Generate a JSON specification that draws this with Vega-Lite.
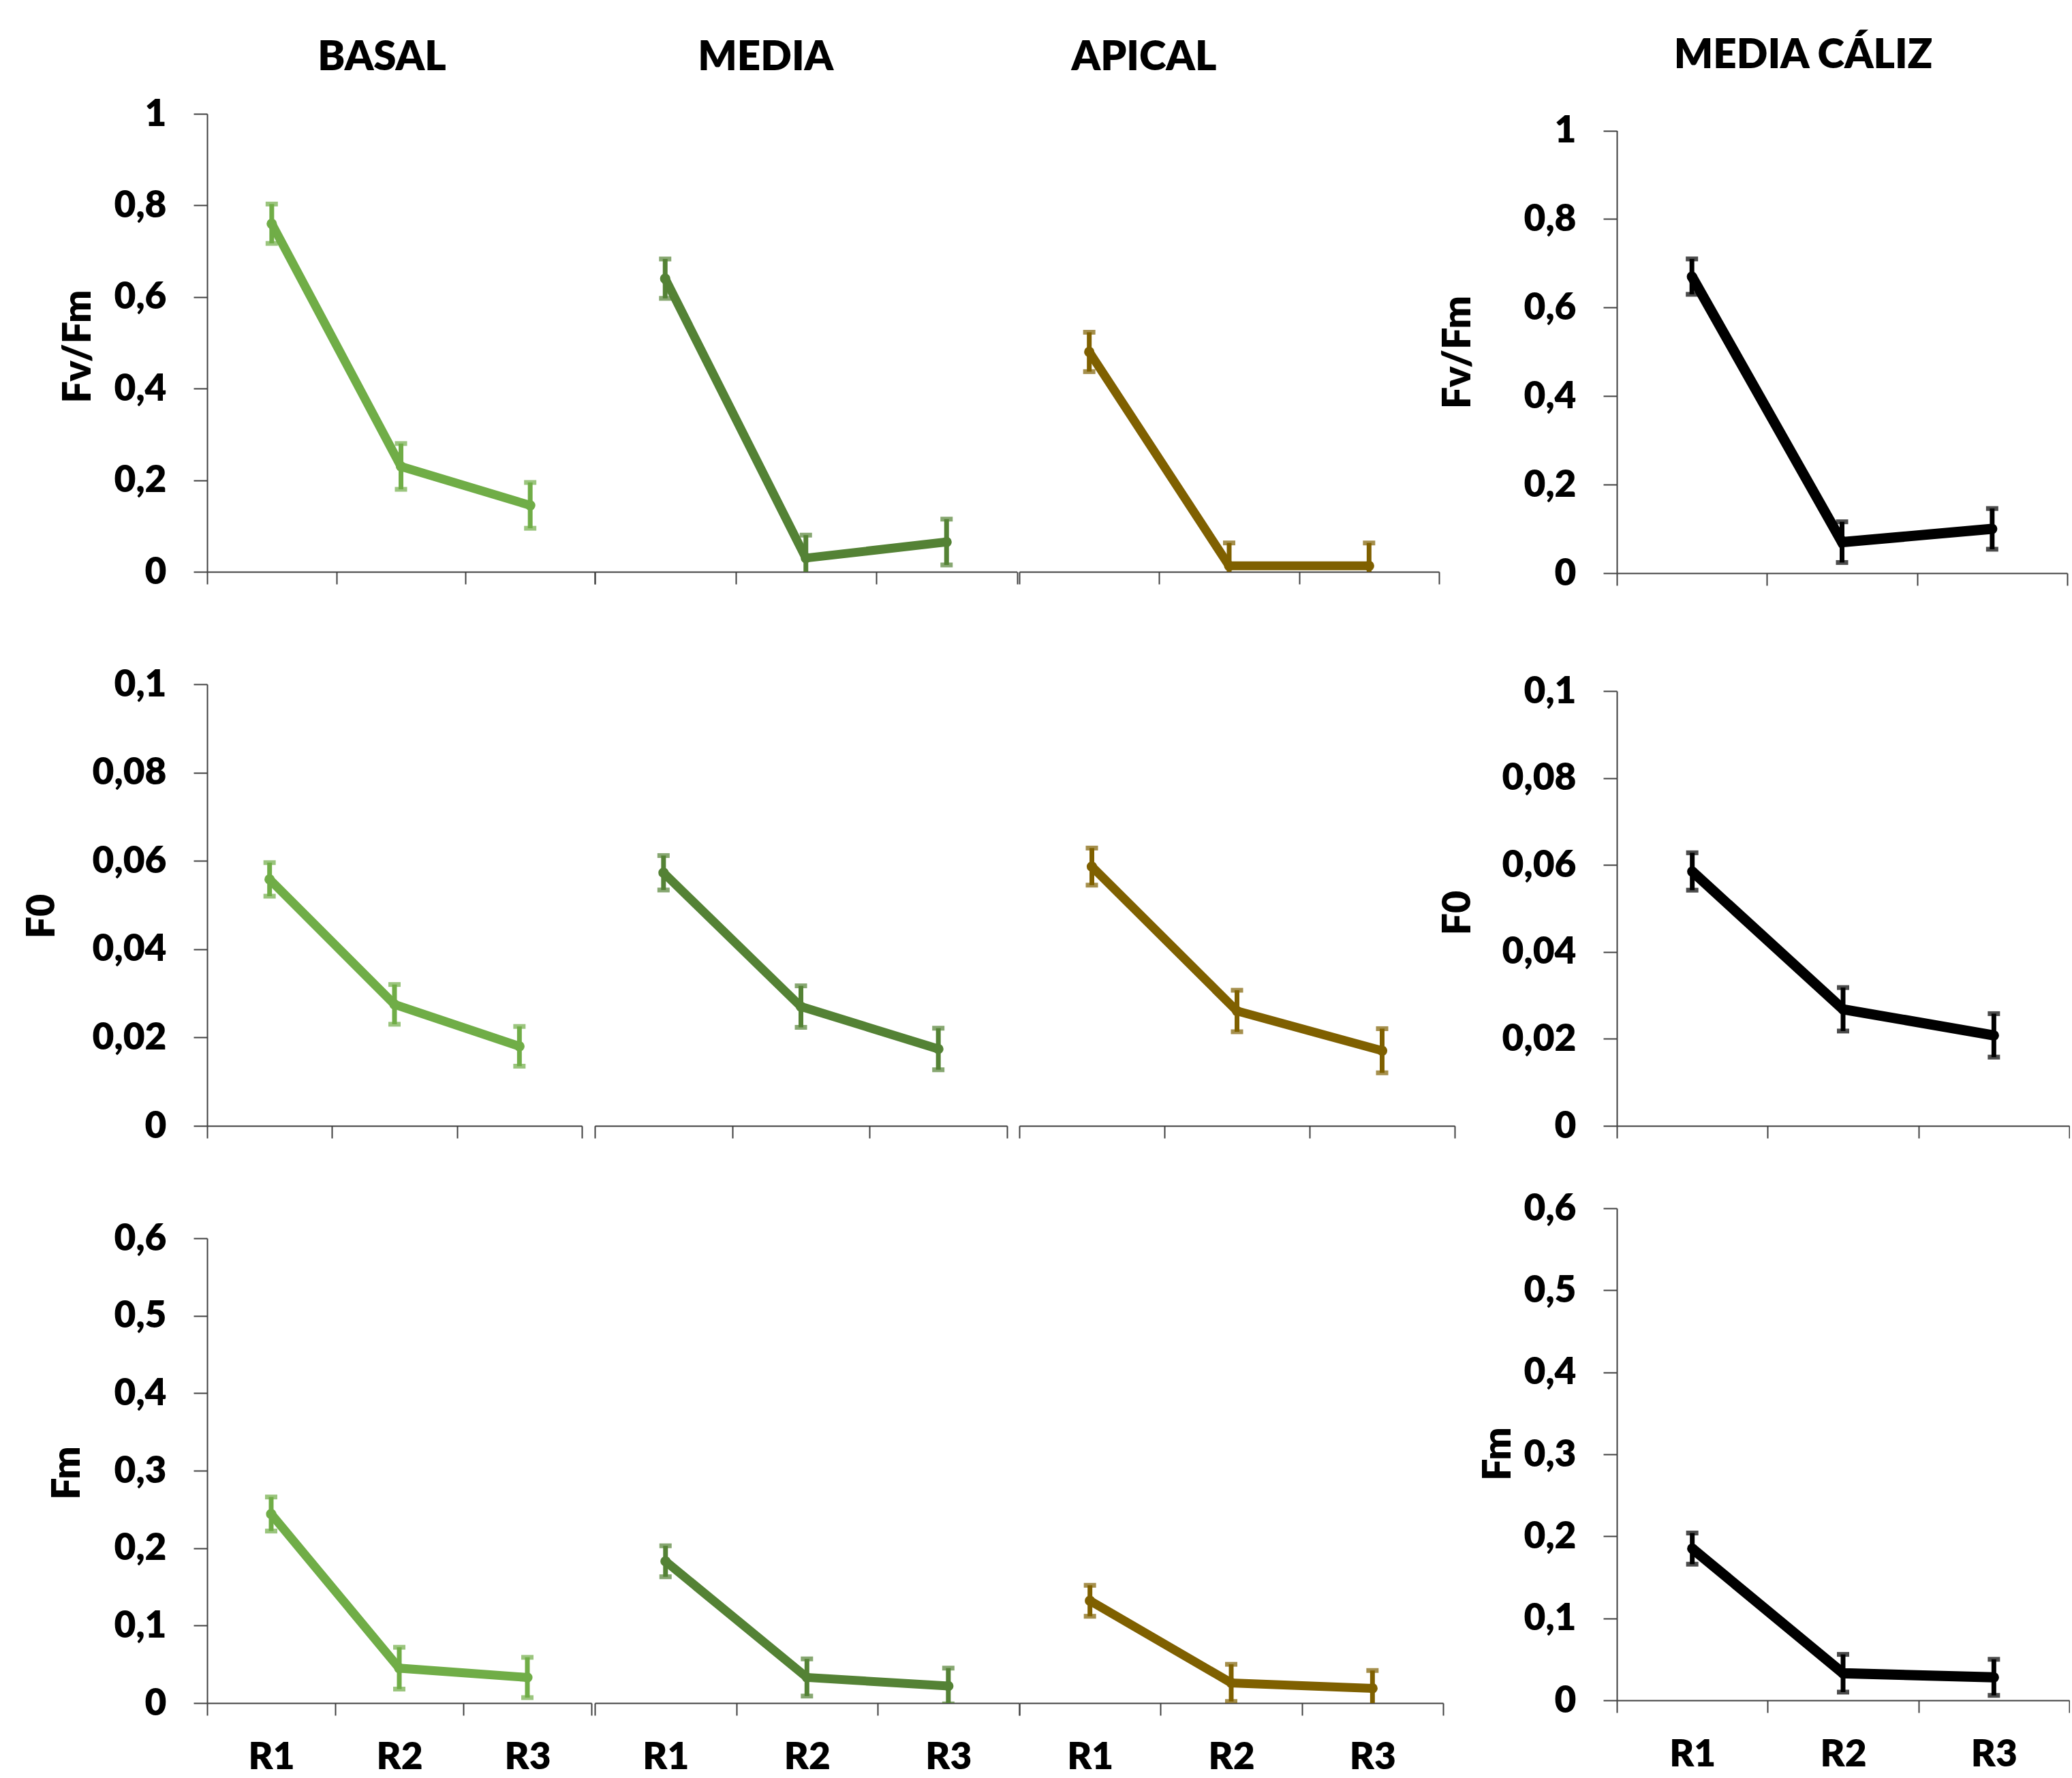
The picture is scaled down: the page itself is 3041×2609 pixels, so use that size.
{
  "$schema": "https://vega.github.io/schema/vega-lite/v6.json",
  "background": "white",
  "padding": {"left": 33, "top": 52, "right": 0, "bottom": 0},
  "autosize": {"type": "pad"},
  "config": {
    "view": {"stroke": null},
    "font": "Lato",
    "title": {"font": "Lato", "fontSize": 60, "fontWeight": 800, "color": "#000000", "anchor": "middle", "frame": "group"},
    "axis": {"grid": false, "domainColor": "#404040", "domainWidth": 2, "tickColor": "#404040", "tickWidth": 2, "labelFont": "Lato", "labelFontSize": 55, "labelFontWeight": 800, "labelColor": "#000000", "titleFont": "Lato", "titleFontSize": 57, "titleFontWeight": 800, "titleColor": "#000000"},
    "axisY": {"tickSize": 20, "labelPadding": 40, "titleAngle": -90, "titleBaseline": "middle", "titleAlign": "center"},
    "axisX": {"tickSize": 18, "tickBand": "extent", "labelPadding": 35, "labelAngle": 0, "labelBaseline": "top"}
  },
  "datasets": {
    "d": [
      {"m": "FvFm", "s": "BASAL", "r": "R1", "v": 0.76, "e": 0.043},
      {"m": "FvFm", "s": "BASAL", "r": "R2", "v": 0.23, "e": 0.05},
      {"m": "FvFm", "s": "BASAL", "r": "R3", "v": 0.145, "e": 0.05},
      {"m": "FvFm", "s": "MEDIA", "r": "R1", "v": 0.64, "e": 0.043},
      {"m": "FvFm", "s": "MEDIA", "r": "R2", "v": 0.03, "e": 0.05},
      {"m": "FvFm", "s": "MEDIA", "r": "R3", "v": 0.065, "e": 0.05},
      {"m": "FvFm", "s": "APICAL", "r": "R1", "v": 0.48, "e": 0.043},
      {"m": "FvFm", "s": "APICAL", "r": "R2", "v": 0.013, "e": 0.05},
      {"m": "FvFm", "s": "APICAL", "r": "R3", "v": 0.013, "e": 0.05},
      {"m": "FvFm", "s": "CALIZ", "r": "R1", "v": 0.67, "e": 0.04},
      {"m": "FvFm", "s": "CALIZ", "r": "R2", "v": 0.07, "e": 0.046},
      {"m": "FvFm", "s": "CALIZ", "r": "R3", "v": 0.1, "e": 0.046},
      {"m": "F0", "s": "BASAL", "r": "R1", "v": 0.0558, "e": 0.0038},
      {"m": "F0", "s": "BASAL", "r": "R2", "v": 0.0275, "e": 0.0045},
      {"m": "F0", "s": "BASAL", "r": "R3", "v": 0.018, "e": 0.0045},
      {"m": "F0", "s": "MEDIA", "r": "R1", "v": 0.0573, "e": 0.0039},
      {"m": "F0", "s": "MEDIA", "r": "R2", "v": 0.027, "e": 0.0047},
      {"m": "F0", "s": "MEDIA", "r": "R3", "v": 0.0174, "e": 0.0047},
      {"m": "F0", "s": "APICAL", "r": "R1", "v": 0.0587, "e": 0.0042},
      {"m": "F0", "s": "APICAL", "r": "R2", "v": 0.026, "e": 0.0047},
      {"m": "F0", "s": "APICAL", "r": "R3", "v": 0.017, "e": 0.005},
      {"m": "F0", "s": "CALIZ", "r": "R1", "v": 0.0585, "e": 0.0043},
      {"m": "F0", "s": "CALIZ", "r": "R2", "v": 0.0268, "e": 0.005},
      {"m": "F0", "s": "CALIZ", "r": "R3", "v": 0.0208, "e": 0.005},
      {"m": "Fm", "s": "BASAL", "r": "R1", "v": 0.244, "e": 0.022},
      {"m": "Fm", "s": "BASAL", "r": "R2", "v": 0.045, "e": 0.027},
      {"m": "Fm", "s": "BASAL", "r": "R3", "v": 0.033, "e": 0.026},
      {"m": "Fm", "s": "MEDIA", "r": "R1", "v": 0.183, "e": 0.02},
      {"m": "Fm", "s": "MEDIA", "r": "R2", "v": 0.033, "e": 0.024},
      {"m": "Fm", "s": "MEDIA", "r": "R3", "v": 0.022, "e": 0.023},
      {"m": "Fm", "s": "APICAL", "r": "R1", "v": 0.132, "e": 0.02},
      {"m": "Fm", "s": "APICAL", "r": "R2", "v": 0.026, "e": 0.024},
      {"m": "Fm", "s": "APICAL", "r": "R3", "v": 0.019, "e": 0.023},
      {"m": "Fm", "s": "CALIZ", "r": "R1", "v": 0.185, "e": 0.019},
      {"m": "Fm", "s": "CALIZ", "r": "R2", "v": 0.033, "e": 0.023},
      {"m": "Fm", "s": "CALIZ", "r": "R3", "v": 0.028, "e": 0.022}
    ]
  },
  "data": {"name": "d"},
  "spacing": -25,
  "hconcat": [
    {
      "columns": 3,
      "spacing": {"row": 165, "column": 0},
      "bounds": "flush",
      "align": {"row": "each", "column": "none"},
      "concat": [
        {
          "width": 569, "height": 672,
          "title": {"text": "BASAL", "dx": -28, "offset": 24.5},
          "transform": [{"filter": "datum.m == 'FvFm' && datum.s == 'BASAL'"}],
          "encoding": {
            "x": {"field": "r", "type": "nominal", "sort": ["R1", "R2", "R3"], "title": null, "scale": {"type": "band", "paddingInner": 0, "paddingOuter": 0}, "axis": {"labels": false}},
            "y": {"field": "v", "type": "quantitative", "scale": {"domain": [0, 1], "nice": false}, "axis": {"values": [0, 0.2, 0.4, 0.6, 0.8, 1], "labelExpr": "replace(format(datum.value, '~g'), '.', ',')", "title": "Fv/Fm", "titleX": -189, "titleY": 341}}
          },
          "layer": [
            {"mark": {"type": "line", "color": "#70AD47", "strokeWidth": 13}},
            {"mark": {"type": "errorbar", "color": "#70AD47", "ticks": true, "size": 18, "thickness": 7, "clip": true}, "encoding": {"yError": {"field": "e"}}},
            {"mark": {"type": "point", "filled": true, "color": "#70AD47", "size": 230, "opacity": 1}}
          ]
        },
        {
          "width": 619.5, "height": 672,
          "title": {"text": "MEDIA", "dx": -59, "offset": 51.5},
          "transform": [{"filter": "datum.m == 'FvFm' && datum.s == 'MEDIA'"}],
          "encoding": {
            "x": {"field": "r", "type": "nominal", "sort": ["R1", "R2", "R3"], "title": null, "scale": {"type": "band", "paddingInner": 0, "paddingOuter": 0}, "axis": {"labels": false}},
            "y": {"field": "v", "type": "quantitative", "scale": {"domain": [0, 1], "nice": false}, "axis": null}
          },
          "layer": [
            {"mark": {"type": "line", "color": "#548235", "strokeWidth": 13}},
            {"mark": {"type": "errorbar", "color": "#548235", "ticks": true, "size": 18, "thickness": 7, "clip": true}, "encoding": {"yError": {"field": "e"}}},
            {"mark": {"type": "point", "filled": true, "color": "#548235", "size": 230, "opacity": 1}}
          ]
        },
        {
          "width": 616, "height": 672,
          "title": {"text": "APICAL", "dx": -125, "offset": 51.5},
          "transform": [{"filter": "datum.m == 'FvFm' && datum.s == 'APICAL'"}],
          "encoding": {
            "x": {"field": "r", "type": "nominal", "sort": ["R1", "R2", "R3"], "title": null, "scale": {"type": "band", "paddingInner": 0, "paddingOuter": 0}, "axis": {"labels": false}},
            "y": {"field": "v", "type": "quantitative", "scale": {"domain": [0, 1], "nice": false}, "axis": null}
          },
          "layer": [
            {"mark": {"type": "line", "color": "#7F6000", "strokeWidth": 13}},
            {"mark": {"type": "errorbar", "color": "#7F6000", "ticks": true, "size": 18, "thickness": 7, "clip": true}, "encoding": {"yError": {"field": "e"}}},
            {"mark": {"type": "point", "filled": true, "color": "#7F6000", "size": 230, "opacity": 1}}
          ]
        },
        {
          "width": 550, "height": 648,
          "transform": [{"filter": "datum.m == 'F0' && datum.s == 'BASAL'"}],
          "encoding": {
            "x": {"field": "r", "type": "nominal", "sort": ["R1", "R2", "R3"], "title": null, "scale": {"type": "band", "paddingInner": 0, "paddingOuter": 0}, "axis": {"labels": false}},
            "y": {"field": "v", "type": "quantitative", "scale": {"domain": [0, 0.1], "nice": false}, "axis": {"values": [0, 0.02, 0.04, 0.06, 0.08, 0.1], "labelExpr": "replace(format(datum.value, '~g'), '.', ',')", "title": "F0", "titleX": -241.6, "titleY": 340}}
          },
          "layer": [
            {"mark": {"type": "line", "color": "#70AD47", "strokeWidth": 13}},
            {"mark": {"type": "errorbar", "color": "#70AD47", "ticks": true, "size": 18, "thickness": 7, "clip": true}, "encoding": {"yError": {"field": "e"}}},
            {"mark": {"type": "point", "filled": true, "color": "#70AD47", "size": 230, "opacity": 1}}
          ]
        },
        {
          "width": 605, "height": 648,
          "transform": [{"filter": "datum.m == 'F0' && datum.s == 'MEDIA'"}],
          "encoding": {
            "x": {"field": "r", "type": "nominal", "sort": ["R1", "R2", "R3"], "title": null, "scale": {"type": "band", "paddingInner": 0, "paddingOuter": 0}, "axis": {"labels": false}},
            "y": {"field": "v", "type": "quantitative", "scale": {"domain": [0, 0.1], "nice": false}, "axis": null}
          },
          "layer": [
            {"mark": {"type": "line", "color": "#548235", "strokeWidth": 13}},
            {"mark": {"type": "errorbar", "color": "#548235", "ticks": true, "size": 18, "thickness": 7, "clip": true}, "encoding": {"yError": {"field": "e"}}},
            {"mark": {"type": "point", "filled": true, "color": "#548235", "size": 230, "opacity": 1}}
          ]
        },
        {
          "width": 639, "height": 648,
          "transform": [{"filter": "datum.m == 'F0' && datum.s == 'APICAL'"}],
          "encoding": {
            "x": {"field": "r", "type": "nominal", "sort": ["R1", "R2", "R3"], "title": null, "scale": {"type": "band", "paddingInner": 0, "paddingOuter": 0}, "axis": {"labels": false}},
            "y": {"field": "v", "type": "quantitative", "scale": {"domain": [0, 0.1], "nice": false}, "axis": null}
          },
          "layer": [
            {"mark": {"type": "line", "color": "#7F6000", "strokeWidth": 13}},
            {"mark": {"type": "errorbar", "color": "#7F6000", "ticks": true, "size": 18, "thickness": 7, "clip": true}, "encoding": {"yError": {"field": "e"}}},
            {"mark": {"type": "point", "filled": true, "color": "#7F6000", "size": 230, "opacity": 1}}
          ]
        },
        {
          "width": 564, "height": 682,
          "transform": [{"filter": "datum.m == 'Fm' && datum.s == 'BASAL'"}],
          "encoding": {
            "x": {"field": "r", "type": "nominal", "sort": ["R1", "R2", "R3"], "title": null, "scale": {"type": "band", "paddingInner": 0, "paddingOuter": 0}, "axis": {"labels": true}},
            "y": {"field": "v", "type": "quantitative", "scale": {"domain": [0, 0.6], "nice": false}, "axis": {"values": [0, 0.1, 0.2, 0.3, 0.4, 0.5, 0.6], "labelExpr": "replace(format(datum.value, '~g'), '.', ',')", "title": "Fm", "titleX": -204.7, "titleY": 344}}
          },
          "layer": [
            {"mark": {"type": "line", "color": "#70AD47", "strokeWidth": 13}},
            {"mark": {"type": "errorbar", "color": "#70AD47", "ticks": true, "size": 18, "thickness": 7, "clip": true}, "encoding": {"yError": {"field": "e"}}},
            {"mark": {"type": "point", "filled": true, "color": "#70AD47", "size": 230, "opacity": 1}}
          ]
        },
        {
          "width": 622.6, "height": 682,
          "transform": [{"filter": "datum.m == 'Fm' && datum.s == 'MEDIA'"}],
          "encoding": {
            "x": {"field": "r", "type": "nominal", "sort": ["R1", "R2", "R3"], "title": null, "scale": {"type": "band", "paddingInner": 0, "paddingOuter": 0}, "axis": {"labels": true}},
            "y": {"field": "v", "type": "quantitative", "scale": {"domain": [0, 0.6], "nice": false}, "axis": null}
          },
          "layer": [
            {"mark": {"type": "line", "color": "#548235", "strokeWidth": 13}},
            {"mark": {"type": "errorbar", "color": "#548235", "ticks": true, "size": 18, "thickness": 7, "clip": true}, "encoding": {"yError": {"field": "e"}}},
            {"mark": {"type": "point", "filled": true, "color": "#548235", "size": 230, "opacity": 1}}
          ]
        },
        {
          "width": 622, "height": 682,
          "transform": [{"filter": "datum.m == 'Fm' && datum.s == 'APICAL'"}],
          "encoding": {
            "x": {"field": "r", "type": "nominal", "sort": ["R1", "R2", "R3"], "title": null, "scale": {"type": "band", "paddingInner": 0, "paddingOuter": 0}, "axis": {"labels": true}},
            "y": {"field": "v", "type": "quantitative", "scale": {"domain": [0, 0.6], "nice": false}, "axis": null}
          },
          "layer": [
            {"mark": {"type": "line", "color": "#7F6000", "strokeWidth": 13}},
            {"mark": {"type": "errorbar", "color": "#7F6000", "ticks": true, "size": 18, "thickness": 7, "clip": true}, "encoding": {"yError": {"field": "e"}}},
            {"mark": {"type": "point", "filled": true, "color": "#7F6000", "size": 230, "opacity": 1}}
          ]
        }
      ]
    },
    {
      "spacing": 118,
      "vconcat": [
        {
          "width": 661, "height": 674,
          "title": {"text": "MEDIA CÁLIZ", "dx": -57, "offset": 51.6},
          "transform": [{"filter": "datum.m == 'FvFm' && datum.s == 'CALIZ'"}],
          "encoding": {
            "x": {"field": "r", "type": "nominal", "sort": ["R1", "R2", "R3"], "title": null, "scale": {"type": "band", "paddingInner": 0, "paddingOuter": 0}, "axis": {"labels": false}},
            "y": {"field": "v", "type": "quantitative", "scale": {"domain": [0, 1.0379], "nice": false}, "axis": {"values": [0, 0.2, 0.4, 0.6, 0.8, 1], "domainDash": [649.5, 40], "labelExpr": "replace(format(datum.value, '~g'), '.', ',')", "title": "Fv/Fm", "titleX": -233, "titleY": 349.5}}
          },
          "layer": [
            {"mark": {"type": "line", "color": "#000000", "strokeWidth": 15}},
            {"mark": {"type": "errorbar", "color": "#000000", "ticks": true, "size": 18, "thickness": 7, "clip": true}, "encoding": {"yError": {"field": "e"}}},
            {"mark": {"type": "point", "filled": true, "color": "#000000", "size": 230, "opacity": 1}}
          ]
        },
        {
          "spacing": 121,
          "bounds": "flush",
          "vconcat": [
            {
              "width": 664, "height": 638,
              "transform": [{"filter": "datum.m == 'F0' && datum.s == 'CALIZ'"}],
              "encoding": {
                "x": {"field": "r", "type": "nominal", "sort": ["R1", "R2", "R3"], "title": null, "scale": {"type": "band", "paddingInner": 0, "paddingOuter": 0}, "axis": {"labels": false}},
                "y": {"field": "v", "type": "quantitative", "scale": {"domain": [0, 0.1], "nice": false}, "axis": {"values": [0, 0.02, 0.04, 0.06, 0.08, 0.1], "labelExpr": "replace(format(datum.value, '~g'), '.', ',')", "title": "F0", "titleX": -233, "titleY": 325}}
              },
              "layer": [
                {"mark": {"type": "line", "color": "#000000", "strokeWidth": 15}},
                {"mark": {"type": "errorbar", "color": "#000000", "ticks": true, "size": 18, "thickness": 7, "clip": true}, "encoding": {"yError": {"field": "e"}}},
                {"mark": {"type": "point", "filled": true, "color": "#000000", "size": 230, "opacity": 1}}
              ]
            },
            {
              "width": 664, "height": 722,
              "transform": [{"filter": "datum.m == 'Fm' && datum.s == 'CALIZ'"}],
              "encoding": {
                "x": {"field": "r", "type": "nominal", "sort": ["R1", "R2", "R3"], "title": null, "scale": {"type": "band", "paddingInner": 0, "paddingOuter": 0}, "axis": {"labels": true}},
                "y": {"field": "v", "type": "quantitative", "scale": {"domain": [0, 0.6], "nice": false}, "axis": {"values": [0, 0.1, 0.2, 0.3, 0.4, 0.5, 0.6], "labelExpr": "replace(format(datum.value, '~g'), '.', ',')", "title": "Fm", "titleX": -174, "titleY": 360}}
              },
              "layer": [
                {"mark": {"type": "line", "color": "#000000", "strokeWidth": 15}},
                {"mark": {"type": "errorbar", "color": "#000000", "ticks": true, "size": 18, "thickness": 7, "clip": true}, "encoding": {"yError": {"field": "e"}}},
                {"mark": {"type": "point", "filled": true, "color": "#000000", "size": 230, "opacity": 1}}
              ]
            }
          ]
        }
      ]
    }
  ]
}
